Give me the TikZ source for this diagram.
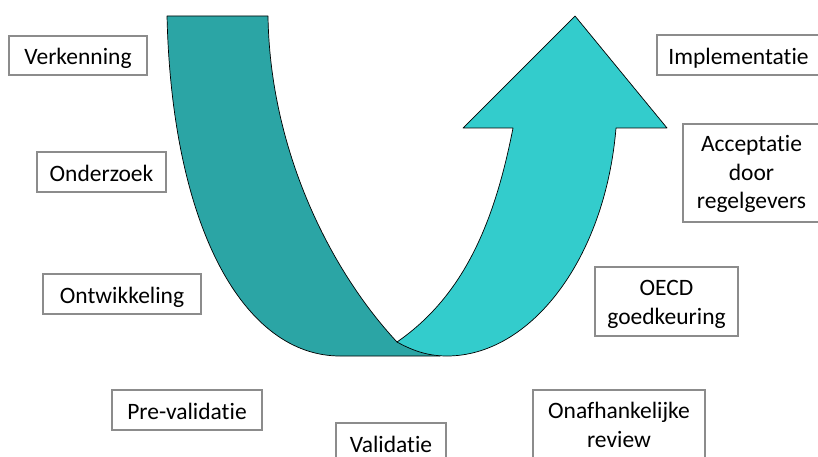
\documentclass[tikz,border=0pt]{standalone}
\usepackage{fontspec}
\setmainfont[Ligatures=NoCommon]{Carlito}
\usetikzlibrary{positioning,calc}
\definecolor{boxgray}{RGB}{140,140,140}
\definecolor{darkteal}{RGB}{43,165,165}
\definecolor{lightteal}{RGB}{51,204,204}

\begin{document}
\begin{tikzpicture}[x=1pt,y=-1pt,
   stage/.style = {draw=boxgray, line width=1.2pt, fill=white, inner sep=0pt,
      align=center, text depth=0pt, text height=19pt,
      font=\fontsize{23.5}{28.5}\selectfont},
   twoline/.style = {text height=45pt},
   band/.style = {draw=black, line width=0.7pt, line join=round}
]
   \useasboundingbox (0,0) rectangle (818,457);
   \clip (0,0) rectangle (818,457);

   % corners of the two bands
   \coordinate (d0) at (167,16);
   \coordinate (d1) at (268,16);
   \coordinate (x0) at (397,342);
   \coordinate (d2) at (440,356);
   \coordinate (d3) at (340,356);

   \coordinate (l0) at (447,356);
   \coordinate (l1) at (616,128);
   \coordinate (l2) at (667,128);
   \coordinate (tip) at (575,16);
   \coordinate (l3) at (463,128);
   \coordinate (l4) at (513,128);

   % going down
   \path[band, fill=darkteal] (d0) -- (d1)
      .. controls (270,150) and (330,270) .. (x0) -- (d2) -- (d3)
      .. controls (245,356) and (172,230) .. (d0) -- cycle;

   % going up
   \path[band, fill=lightteal] (x0) .. controls (415,352) and (430,356) .. (l0)
      .. controls (530,356) and (605,260) .. (l1) -- (l2) -- (tip) -- (l3) -- (l4)
      .. controls (495,220) and (465,295) .. (x0) -- cycle;

   % left side
   \node[stage, minimum width=138pt, minimum height=39pt] (verk)   at (78,55.5) {Verkenning};
   \node[stage, minimum width=129pt, minimum height=40pt] (onderz) at (101.5,172) {Onderzoek};
   \node[stage, minimum width=158pt, minimum height=40pt] (ontw)   at (122,294) {Ontwikkeling};
   \node[stage, minimum width=150pt, minimum height=40pt] (preval) at (187,410) {Pre-validatie};
   \node[stage, minimum width=110pt, minimum height=40pt] (val)    at (391,443) {Validatie};

   % right side
   \node[stage, twoline, minimum width=172pt, minimum height=69pt] (review) at (619,424.5) {Onafhankelijke\\review};
   \node[stage, twoline, minimum width=143pt, minimum height=69pt] (oecd)   at (666.5,301.5) {OECD\\goedkeuring};
   \node[stage, text height=71pt, minimum width=137pt, minimum height=98pt] (accept) at (751.5,173) {Acceptatie\\door\\regelgevers};
   \node[stage, minimum width=163pt, minimum height=40pt] (impl)   at (738.5,55) {Implementatie};
\end{tikzpicture}
\end{document}
